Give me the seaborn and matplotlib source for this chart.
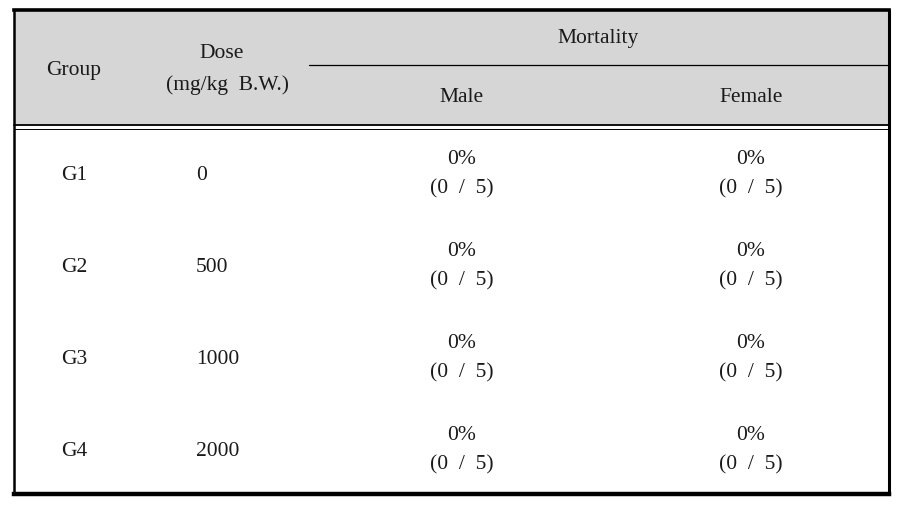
import matplotlib
matplotlib.use("Agg")
import matplotlib.pyplot as plt
import seaborn as sns

# 표 데이터
groups = ["G1", "G2", "G3", "G4"]
doses = ["0", "500", "1000", "2000"]
male_dead = [0, 0, 0, 0]
female_dead = [0, 0, 0, 0]
n_animals = [5, 5, 5, 5]

sns.set_theme(style="white")
plt.rcParams["font.family"] = ["Liberation Serif", "DejaVu Serif"]

fig = plt.figure(figsize=(9.09, 5.17), dpi=100)
ax = fig.add_axes([0, 0, 1, 1])
ax.set_xlim(0, 909)
ax.set_ylim(517, 0)
ax.axis("off")

left, right, top, bottom = 14, 889, 10, 494
head_bot = 125

# 헤더 배경
ax.fill_between([left, right], top, head_bot, color="#d6d6d6", lw=0)

# 테두리
ax.plot([left, right], [top, top], color="black", lw=2.6, solid_capstyle="projecting")
ax.plot([left, right], [bottom, bottom], color="black", lw=3.2, solid_capstyle="projecting")
ax.plot([left, left], [top, bottom], color="black", lw=1.8)
ax.plot([right, right], [top, bottom], color="black", lw=2.2)
ax.plot([309, 890], [65, 65], color="black", lw=0.9)
ax.plot([left, right], [125, 125], color="black", lw=1.3)
ax.plot([left, right], [128.5, 128.5], color="black", lw=0.7)

fs = 15.5
dy = 2
kw = dict(fontsize=fs, color="#1a1a1a")
ax.text(74, 68 + dy, "Group", ha="center", va="center", **kw)
ax.text(222, 52 + dy, "Dose", ha="center", va="center", **kw)
ax.text(228, 83 + dy, "(mg/kg  B.W.)", ha="center", va="center", **kw)
ax.text(598, 37 + dy, "Mortality", ha="center", va="center", **kw)
ax.text(462, 96 + dy, "Male", ha="center", va="center", **kw)
ax.text(751, 96 + dy, "Female", ha="center", va="center", **kw)

row_y = [173, 265, 357, 449]
for y, g, d, m, f, n in zip(row_y, groups, doses, male_dead, female_dead, n_animals):
    y = y + dy
    ax.text(74, y, g, ha="center", va="center", **kw)
    ax.text(196, y, d, ha="left", va="center", **kw)
    for x, k in [(462, m), (751, f)]:
        ax.text(x, y - 15, f"{k * 100 // n}%", ha="center", va="center", **kw)
        ax.text(x, y + 14, f"({k}  /  {n})", ha="center", va="center", **kw)

fig.savefig("out.png", dpi=100, facecolor="white")
